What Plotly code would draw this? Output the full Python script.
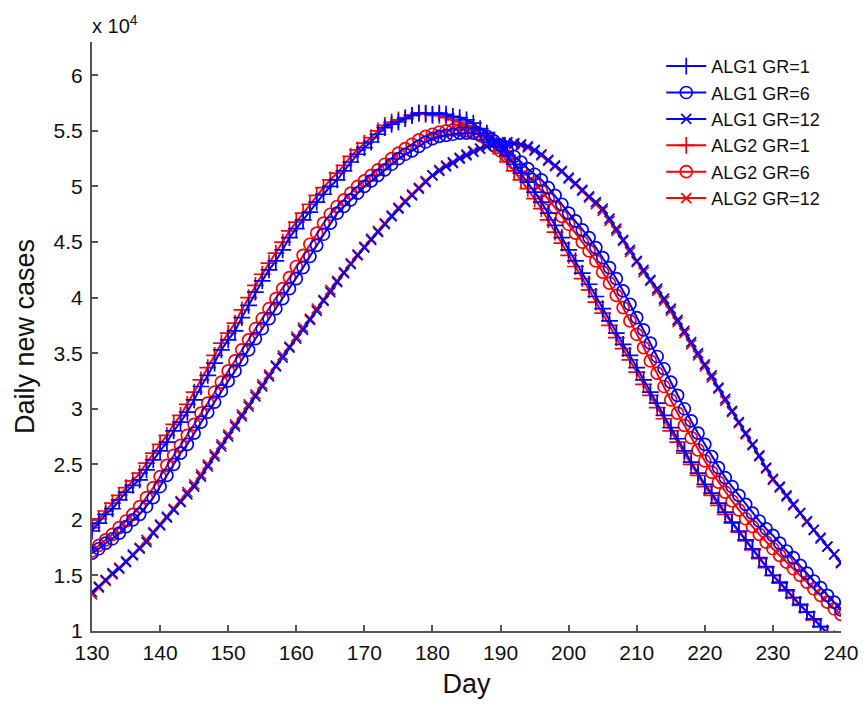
import plotly.graph_objects as go

days = list(range(130, 241))

# Daily new cases, in units of 10^4
alg1_gr1 = [1.90,1.97,2.05,2.10,2.18,2.25,2.31,2.36,2.45,2.54,2.62,2.70,2.80,2.88,2.97,3.08,3.20,3.30,3.41,3.53,
            3.62,3.70,3.82,3.93,4.05,4.15,4.25,4.33,4.43,4.54,4.62,4.70,4.77,4.86,4.93,5.00,5.06,5.14,5.22,5.29,
            5.35,5.40,5.47,5.53,5.56,5.58,5.61,5.64,5.66,5.66,5.65,5.66,5.65,5.63,5.62,5.60,5.57,5.52,5.48,5.42,
            5.36,5.28,5.20,5.12,5.04,4.95,4.86,4.76,4.65,4.54,4.43,4.33,4.22,4.12,4.01,3.90,3.79,3.68,3.58,3.48,
            3.37,3.26,3.15,3.05,2.94,2.83,2.73,2.62,2.52,2.42,2.32,2.24,2.15,2.07,1.98,1.90,1.82,1.74,1.66,1.58,
            1.50,1.44,1.37,1.30,1.24,1.17,1.11,1.04,0.98,0.93,0.88]
alg1_gr6 = [1.70,1.74,1.79,1.83,1.88,1.94,2.00,2.05,2.12,2.20,2.30,2.40,2.50,2.60,2.68,2.78,2.88,2.97,3.06,3.16,
            3.25,3.34,3.44,3.53,3.63,3.72,3.81,3.90,3.99,4.08,4.17,4.27,4.37,4.47,4.57,4.67,4.76,4.82,4.88,4.94,
            5.00,5.05,5.10,5.15,5.20,5.25,5.29,5.32,5.36,5.40,5.43,5.45,5.46,5.47,5.48,5.48,5.48,5.47,5.45,5.41,
            5.37,5.32,5.27,5.22,5.16,5.11,5.06,4.99,4.92,4.84,4.76,4.69,4.61,4.54,4.45,4.36,4.27,4.17,4.06,3.94,
            3.82,3.71,3.59,3.47,3.36,3.24,3.12,3.00,2.89,2.78,2.68,2.57,2.47,2.38,2.30,2.22,2.14,2.06,1.99,1.92,
            1.86,1.79,1.72,1.66,1.59,1.52,1.45,1.39,1.32,1.26,1.19]
alg1_gr12 = [1.35,1.40,1.46,1.52,1.56,1.62,1.68,1.74,1.80,1.88,1.95,2.02,2.09,2.16,2.23,2.30,2.39,2.48,2.57,2.66,
             2.75,2.84,2.93,3.02,3.11,3.20,3.29,3.38,3.46,3.55,3.63,3.71,3.80,3.88,3.97,4.05,4.14,4.22,4.30,4.38,
             4.45,4.52,4.59,4.66,4.73,4.80,4.86,4.92,4.98,5.04,5.10,5.14,5.18,5.21,5.25,5.28,5.31,5.34,5.36,5.38,
             5.40,5.40,5.39,5.38,5.36,5.33,5.29,5.24,5.19,5.14,5.08,5.03,4.97,4.91,4.86,4.80,4.71,4.62,4.52,4.43,
             4.33,4.25,4.16,4.08,3.99,3.90,3.80,3.70,3.60,3.50,3.40,3.30,3.19,3.09,2.98,2.88,2.78,2.68,2.58,2.47,
             2.37,2.30,2.22,2.14,2.06,1.99,1.91,1.84,1.76,1.69,1.61]
alg2_gr1 = [1.93,2.01,2.08,2.15,2.22,2.29,2.35,2.42,2.51,2.60,2.68,2.76,2.86,2.94,3.04,3.15,3.26,3.37,3.48,3.59,
            3.68,3.77,3.89,4.00,4.11,4.21,4.31,4.40,4.50,4.60,4.68,4.76,4.84,4.92,4.99,5.06,5.12,5.19,5.27,5.33,
            5.39,5.44,5.50,5.55,5.58,5.60,5.62,5.64,5.66,5.65,5.64,5.64,5.62,5.60,5.58,5.55,5.52,5.47,5.42,5.36,
            5.30,5.22,5.14,5.06,4.98,4.89,4.80,4.70,4.59,4.49,4.38,4.28,4.17,4.07,3.96,3.86,3.75,3.64,3.54,3.44,
            3.33,3.22,3.12,3.01,2.91,2.80,2.70,2.60,2.50,2.40,2.30,2.22,2.13,2.05,1.97,1.89,1.81,1.73,1.65,1.57,
            1.50,1.43,1.36,1.30,1.23,1.17,1.10,1.04,0.98,0.92,0.87]
alg2_gr6 = [1.72,1.77,1.82,1.87,1.93,1.99,2.05,2.12,2.20,2.29,2.39,2.49,2.58,2.67,2.76,2.86,2.96,3.05,3.15,3.24,
            3.34,3.43,3.53,3.62,3.72,3.81,3.90,3.99,4.08,4.18,4.28,4.38,4.48,4.58,4.67,4.75,4.82,4.88,4.94,5.00,
            5.05,5.10,5.15,5.20,5.25,5.30,5.34,5.38,5.42,5.45,5.47,5.49,5.50,5.51,5.51,5.50,5.49,5.46,5.42,5.37,
            5.32,5.27,5.21,5.15,5.09,5.03,4.96,4.89,4.81,4.73,4.66,4.58,4.50,4.42,4.33,4.23,4.13,4.02,3.91,3.79,
            3.67,3.55,3.43,3.32,3.20,3.08,2.96,2.85,2.74,2.63,2.53,2.43,2.34,2.25,2.17,2.09,2.01,1.94,1.87,1.80,
            1.74,1.68,1.62,1.56,1.50,1.44,1.38,1.32,1.26,1.20,1.15]
alg2_gr12 = [1.33,1.39,1.45,1.51,1.57,1.63,1.69,1.75,1.82,1.89,1.96,2.03,2.10,2.17,2.25,2.32,2.41,2.50,2.59,2.68,
             2.77,2.86,2.95,3.04,3.13,3.22,3.31,3.39,3.48,3.56,3.65,3.73,3.81,3.90,3.98,4.07,4.15,4.23,4.31,4.39,
             4.46,4.53,4.60,4.67,4.74,4.81,4.87,4.93,4.99,5.05,5.10,5.15,5.19,5.22,5.26,5.29,5.32,5.34,5.36,5.38,
             5.39,5.39,5.38,5.37,5.35,5.32,5.28,5.23,5.18,5.13,5.07,5.02,4.96,4.90,4.84,4.78,4.69,4.60,4.51,4.41,
             4.32,4.23,4.15,4.06,3.97,3.88,3.78,3.68,3.58,3.48,3.38,3.28,3.18,3.07,2.97,2.87,2.77,2.67,2.57,2.46,
             2.36,2.29,2.21,2.13,2.06,1.98,1.91,1.83,1.76,1.69,1.62]

x_ticks = [130, 140, 150, 160, 170, 180, 190, 200, 210, 220, 230, 240]
y_ticks = [1, 1.5, 2, 2.5, 3, 3.5, 4, 4.5, 5, 5.5, 6]
y_tick_labels = ["1", "1.5", "2", "2.5", "3", "3.5", "4", "4.5", "5", "5.5", "6"]

series = [
    ("ALG2 GR=1", alg2_gr1, "#ff0000", "cross-thin", 12, 4),
    ("ALG2 GR=6", alg2_gr6, "#ff0000", "circle-open", 12, 5),
    ("ALG2 GR=12", alg2_gr12, "#ff0000", "x-thin", 10, 6),
    ("ALG1 GR=1", alg1_gr1, "#0000ff", "cross-thin", 12, 1),
    ("ALG1 GR=6", alg1_gr6, "#0000ff", "circle-open", 12, 2),
    ("ALG1 GR=12", alg1_gr12, "#0000ff", "x-thin", 10, 3),
]

FONT = "Liberation Sans, Arial, sans-serif"

fig = go.Figure()
for name, vals, color, sym, size, rank in series:
    fig.add_trace(go.Scatter(
        x=days, y=vals, name=name, mode="lines+markers",
        line=dict(color=color, width=2),
        marker=dict(symbol=sym, size=size, color=color,
                    line=dict(color=color, width=1.7)),
        legendrank=rank,
    ))

axis_common = dict(
    showline=True, linecolor="#555555", linewidth=2,
    ticks="inside", ticklen=6, tickwidth=1.5, tickcolor="#555555",
    showgrid=False, zeroline=False, mirror=False, automargin=False,
    tickfont=dict(family=FONT, size=21, color="#111111"),
)

fig.update_layout(
    width=858, height=698,
    margin=dict(l=84, r=25, t=34, b=75),
    paper_bgcolor="white", plot_bgcolor="white",
    xaxis=dict(range=[130, 240], tickvals=x_ticks, ticklabelstandoff=2,
               title=dict(text="Day", font=dict(family=FONT, size=27, color="#111111"), standoff=11),
               **axis_common),
    yaxis=dict(range=[1, 6.3], tickvals=y_ticks, ticktext=y_tick_labels,
               ticklabelstandoff=3,
               title=dict(text="Daily new cases", font=dict(family=FONT, size=27, color="#111111"), standoff=11),
               **axis_common),
    legend=dict(x=0.76, y=0.99, xanchor="left", yanchor="top",
                bgcolor="rgba(255,255,255,0)", borderwidth=0,
                font=dict(family=FONT, size=18, color="#111111"),
                tracegroupgap=0, itemwidth=40),
    showlegend=True,
    annotations=[dict(text="x 10<sup>4</sup>", xref="paper", yref="paper", x=0.0, y=1.0,
                      xanchor="left", yanchor="bottom", showarrow=False, yshift=3, xshift=-2,
                      font=dict(family=FONT, size=20, color="#111111"))],
)

fig.write_html("out.html")
